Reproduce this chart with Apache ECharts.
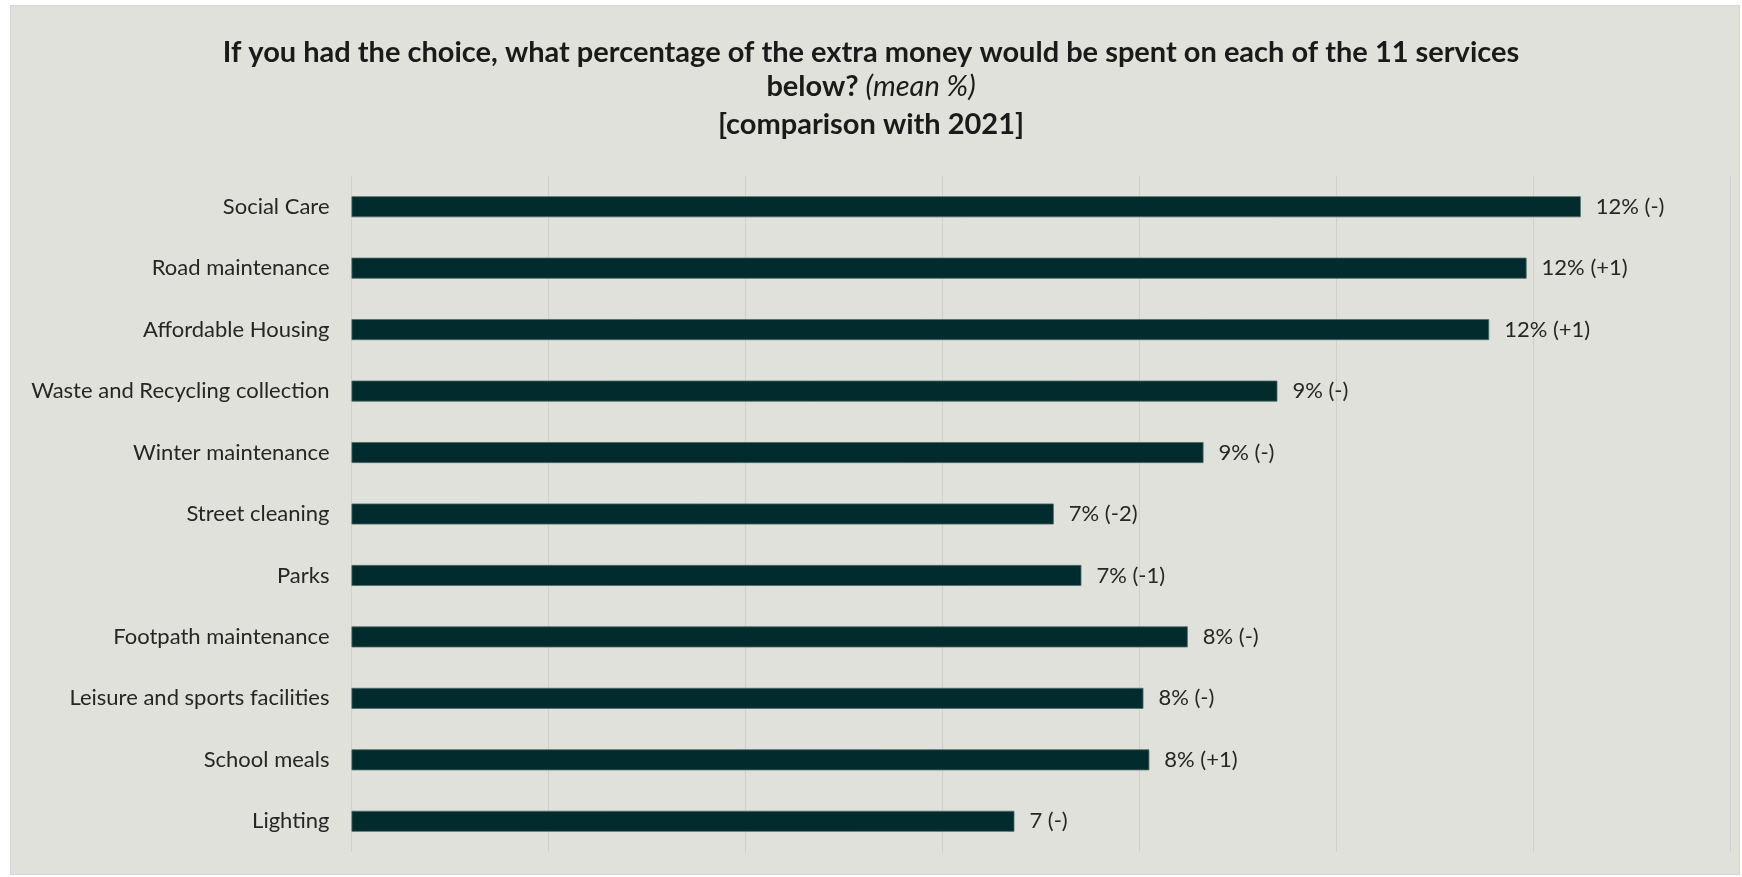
<!DOCTYPE html>
<html>
<head>
<meta charset="utf-8">
<script src="https://cdn.jsdelivr.net/npm/echarts@6/dist/echarts.min.js"></script>
<style>
  html, body { margin: 0; padding: 0; background: #ffffff; }
  #chart { width: 1742px; height: 877px; }
</style>
</head>
<body>
<div id="chart"></div>
<script>
// Services, top to bottom
const services = [
  'Social Care',
  'Road maintenance',
  'Affordable Housing',
  'Waste and Recycling collection',
  'Winter maintenance',
  'Street cleaning',
  'Parks',
  'Footpath maintenance',
  'Leisure and sports facilities',
  'School meals',
  'Lighting'
];
// Mean % of extra money allocated
const meanShare = [12.48, 11.93, 11.55, 9.40, 8.65, 7.13, 7.41, 8.49, 8.04, 8.10, 6.73];
// Change versus 2021
const changeVs2021 = ['-', '+1', '+1', '-', '-', '-2', '-1', '-', '-', '+1', '-'];
// Unit shown after the rounded value
const valueUnit = ['%', '%', '%', '%', '%', '%', '%', '%', '%', '%', ''];

const FONT = 'Lato, "Open Sans", sans-serif';
const chart = echarts.init(document.getElementById('chart'));

chart.setOption({
  backgroundColor: '#ffffff',
  animation: false,
  graphic: [{
    type: 'rect',
    z: -10,
    shape: { x: 10.5, y: 5.5, width: 1729, height: 869 },
    style: { fill: '#e0e1da', stroke: '#d4d4d4', lineWidth: 1 }
  }],
  title: {
    left: '50%',
    top: 36,
    padding: 0,
    textAlign: 'center',
    itemGap: 9,
    text: '{b|If you had the choice, what percentage of the extra money would be spent on each of the 11 services}\n{b|below? }{i|(mean %)}',
    subtext: '[comparison with 2021]',
    textStyle: {
      rich: {
        b: { fontFamily: FONT, fontWeight: 'bold', fontSize: 29, color: '#1a1a1a', lineHeight: 34 },
        i: { fontFamily: FONT, fontStyle: 'italic', fontWeight: 'normal', fontSize: 29, color: '#1a1a1a', lineHeight: 34 }
      }
    },
    subtextStyle: {
      fontFamily: FONT, fontWeight: 'bold', fontSize: 29, color: '#1a1a1a', lineHeight: 34
    }
  },
  grid: { left: 351.5, right: 11.5, top: 176, bottom: 25, containLabel: false },
  xAxis: {
    type: 'value',
    min: 0,
    max: 14,
    interval: 2,
    axisLabel: { show: false },
    axisLine: { show: false },
    axisTick: { show: false },
    splitLine: { show: true, lineStyle: { color: '#cfd0cc', width: 1 } }
  },
  yAxis: {
    type: 'category',
    inverse: true,
    data: services,
    axisLine: { show: false },
    axisTick: { show: false },
    axisLabel: { fontFamily: FONT, fontSize: 22, color: '#262626', margin: 22 }
  },
  series: [{
    type: 'bar',
    data: meanShare,
    barWidth: 21,
    itemStyle: { color: '#022b2d', borderColor: '#4e6b69', borderWidth: 0.8 },
    label: {
      show: true,
      position: 'right',
      distance: 15,
      fontFamily: FONT,
      fontSize: 22,
      color: '#262626',
      formatter: p => Math.round(p.value) + valueUnit[p.dataIndex] + ' (' + changeVs2021[p.dataIndex] + ')'
    }
  }]
});
</script>
</body>
</html>
